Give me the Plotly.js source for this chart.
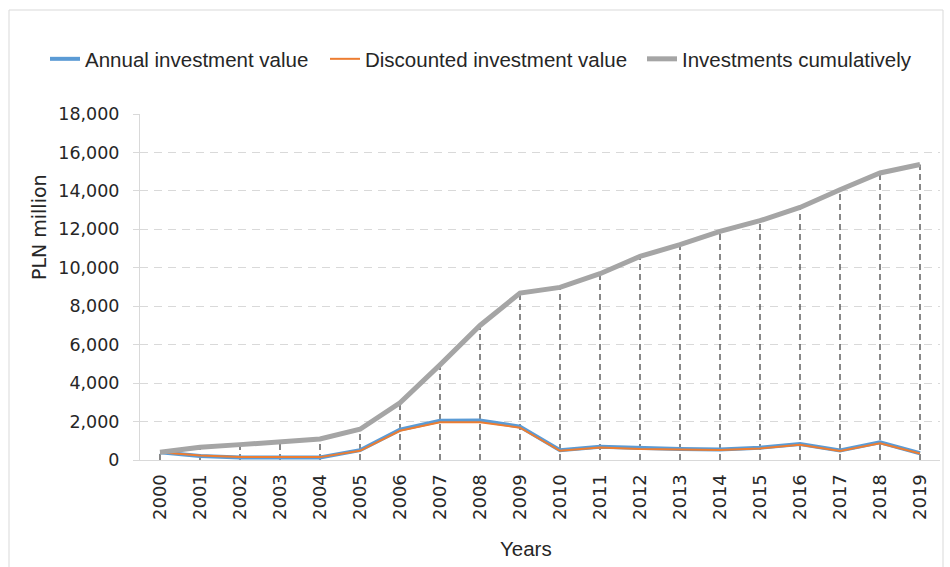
<!DOCTYPE html>
<html>
<head>
<meta charset="utf-8">
<script src="https://cdn.plot.ly/plotly-3.0.1.min.js"></script>
<style>
  html, body { margin: 0; padding: 0; background: #ffffff; }
  #chart { width: 950px; height: 567px; }
</style>
</head>
<body>
<div id="chart"></div>
<script>
const years = ['2000','2001','2002','2003','2004','2005','2006','2007','2008','2009',
               '2010','2011','2012','2013','2014','2015','2016','2017','2018','2019'];
const annualInvestment = [400, 210, 130, 120, 130, 510, 1580, 2040, 2050, 1740,
                          510, 690, 610, 570, 550, 640, 830, 500, 920, 350];
const discountedInvestment = [400, 230, 150, 140, 150, 480, 1520, 1960, 1960, 1680,
                              480, 650, 570, 540, 520, 600, 790, 470, 870, 340];
const cumulativeInvestment = [400, 660, 800, 950, 1090, 1600, 2980, 4950, 7000, 8680,
                              8980, 9690, 10590, 11200, 11890, 12450, 13140, 14060, 14930, 15370];
const yTickValues = [0, 2000, 4000, 6000, 8000, 10000, 12000, 14000, 16000, 18000];
const yTickLabels = ['0', '2,000', '4,000', '6,000', '8,000', '10,000', '12,000', '14,000', '16,000', '18,000'];
const seriesNames = ['Annual investment value', 'Discounted investment value', 'Investments cumulatively'];
const xTitle = 'Years';
const yTitle = 'PLN million';

// drop lines built from the cumulative series
const dropX = [], dropY = [];
years.forEach((yr, i) => { dropX.push(yr, yr, null); dropY.push(0, cumulativeInvestment[i], null); });

const textColor = '#262626';
const traces = [
  { x: dropX, y: dropY, mode: 'lines', type: 'scatter', showlegend: false, hoverinfo: 'skip',
    line: { color: '#3a3a3a', width: 1.2, dash: '6px,4px' } },
  { x: years, y: annualInvestment, name: seriesNames[0], mode: 'lines', type: 'scatter',
    legendwidth: 235, line: { color: '#5b9bd5', width: 4 } },
  { x: years, y: discountedInvestment, name: seriesNames[1], mode: 'lines', type: 'scatter',
    legendwidth: 272, line: { color: '#ed7d31', width: 2 } },
  { x: years, y: cumulativeInvestment, name: seriesNames[2], mode: 'lines', type: 'scatter',
    legendwidth: 232, line: { color: '#a5a5a5', width: 5 } }
];

const layout = {
  width: 950, height: 567,
  paper_bgcolor: '#ffffff', plot_bgcolor: '#ffffff',
  margin: { l: 140, r: 10, t: 114, b: 107, pad: 0 },
  showlegend: true,
  legend: {
    orientation: 'h', xref: 'paper', yref: 'paper',
    x: (45 - 140) / 800, xanchor: 'left', y: (460 - 59) / 346, yanchor: 'middle',
    font: { family: 'Liberation Sans, Arial, sans-serif', size: 20.5, color: textColor },
    entrywidthmode: 'pixels', borderwidth: 0, bgcolor: 'rgba(0,0,0,0)',
    traceorder: 'normal'
  },
  xaxis: {
    type: 'category', range: [-0.5, 19.5], fixedrange: true,
    tickangle: -90, ticks: '', ticklabelstandoff: 6,
    tickfont: { family: 'DejaVu Sans, sans-serif', size: 18, color: textColor },
    showline: true, linecolor: '#d9d9d9', linewidth: 1,
    showgrid: false, zeroline: false
  },
  yaxis: {
    range: [0, 18000], fixedrange: true,
    tickvals: yTickValues, ticktext: yTickLabels,
    ticks: 'outside', ticklen: 6, tickcolor: '#d9d9d9', tickwidth: 1,
    ticklabelstandoff: 10,
    tickfont: { family: 'DejaVu Sans, sans-serif', size: 17.5, color: textColor },
    showline: true, linecolor: '#d9d9d9', linewidth: 1,
    showgrid: true, gridcolor: '#d9d9d9', gridwidth: 1, griddash: '8px,6px',
    zeroline: false
  },
  annotations: [
    { text: xTitle, xref: 'paper', yref: 'paper', x: (526 - 140) / 800, y: -(548 - 460) / 346,
      xanchor: 'center', yanchor: 'middle', showarrow: false,
      font: { family: 'Liberation Sans, Arial, sans-serif', size: 20.5, color: textColor } },
    { text: yTitle, xref: 'paper', yref: 'paper', x: (39 - 140) / 800, y: (460 - 227) / 346,
      xanchor: 'center', yanchor: 'middle', showarrow: false, textangle: -90,
      font: { family: 'DejaVu Sans, sans-serif', size: 19, color: textColor } }
  ],
  shapes: [
    { type: 'rect', xref: 'paper', yref: 'paper', layer: 'below',
      x0: (9 - 140) / 800, x1: (943 - 140) / 800, y0: -0.6, y1: (460 - 10) / 346,
      line: { color: '#d9d9d9', width: 1 }, fillcolor: 'rgba(0,0,0,0)' }
  ]
};

Plotly.newPlot('chart', traces, layout, { staticPlot: true, displayModeBar: false });
</script>
</body>
</html>
